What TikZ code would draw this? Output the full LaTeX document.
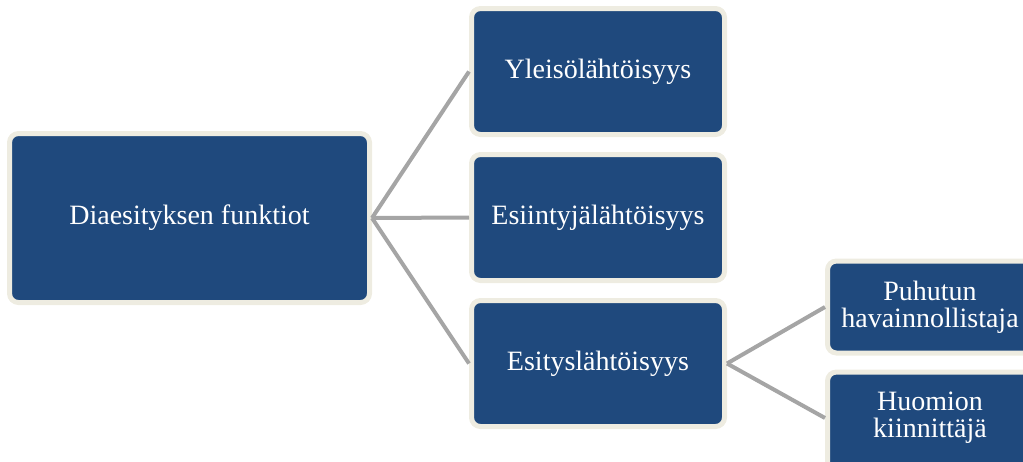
\documentclass[tikz,border=0pt]{standalone}
\usepackage{fontspec}
\setmainfont{Liberation Serif}
\definecolor{boxfill}{HTML}{1F497D}
\definecolor{boxedge}{HTML}{EEECE1}
\definecolor{linkgrey}{HTML}{A5A5A5}
\begin{document}
\begin{tikzpicture}[x=1pt,y=-1pt,
  boxtext/.style={text=white,align=center,inner sep=0pt,
    font=\fontsize{28}{27}\selectfont},
  box/.style={draw=boxedge,fill=boxfill,line width=5pt,rounded corners=9pt,boxtext},
  link/.style={draw=linkgrey,line width=4pt}]
\useasboundingbox (0,0) rectangle (1023,461);
\clip (0,0) rectangle (1023,461);
\node[box,minimum width=360pt,minimum height=169pt] (root) at (189.5,218) {Diaesityksen funktiot};
\node[box,minimum width=253pt,minimum height=126pt] (a) at (598,71.5) {Yleisölähtöisyys};
\node[box,minimum width=253pt,minimum height=126pt] (b) at (598,217.5) {Esiintyjälähtöisyys};
\node[box,minimum width=253pt,minimum height=126pt] (c) at (598,363.5) {Esityslähtöisyys};
\node[box,minimum width=205pt,minimum height=92pt] (d) at (930,307) {Puhutun\\havainnollistaja};
\node[box,minimum width=205pt,minimum height=102pt,
  label={[boxtext,yshift=5pt]center:Huomion\\kiinnittäjä}] (e) at (930,423) {};
\draw[link] (root.east) -- (a.west);
\draw[link] (root.east) -- (b.west);
\draw[link] (root.east) -- (c.west);
\draw[link] (c.east) -- ([yshift=5pt]e.west);
\draw[link] (c.east) -- (d.west);
\end{tikzpicture}
\end{document}
